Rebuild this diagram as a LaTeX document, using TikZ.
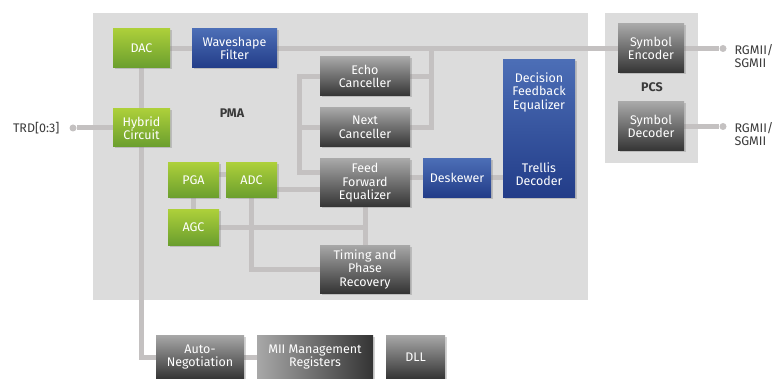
\documentclass[tikz,border=0pt]{standalone}
\usepackage{fontspec}
\setmainfont{Fira Sans}
\usepackage{tikz}
\usetikzlibrary{positioning,calc,shadows}

\definecolor{pmagray}{RGB}{220,220,220}
\definecolor{wiregray}{RGB}{196,193,193}
\definecolor{labelgray}{RGB}{58,58,58}
\definecolor{greentop}{RGB}{172,207,58}
\definecolor{greenbot}{RGB}{106,158,46}
\definecolor{bluetop}{RGB}{76,110,182}
\definecolor{bluebot}{RGB}{34,60,136}
\definecolor{graytop}{RGB}{168,168,168}
\definecolor{graybot}{RGB}{52,52,52}

\pgfdeclarelayer{bg}
\pgfdeclarelayer{wires}
\pgfsetlayers{bg,wires,main}

\newcommand{\boxfont}{\fontsize{12.5}{13.5}\selectfont}

\tikzset{
  blk/.style={inner sep=0pt, align=center, text=white, font=\boxfont,
    drop shadow={shadow xshift=1.5pt, shadow yshift=-1.5pt, opacity=.35}},
  greenbox/.style={blk, top color=greentop, bottom color=greenbot},
  bluebox/.style={blk, top color=bluetop, bottom color=bluebot},
  graybox/.style={blk, top color=graytop, bottom color=graybot},
  wire/.style={draw=wiregray, line width=5pt},
  dot/.style={circle, fill=wiregray, inner sep=0pt, minimum size=7pt},
  lbl/.style={text=labelgray, font=\boxfont, align=left}
}

\begin{document}
\begin{tikzpicture}[x=1pt,y=-1pt]
\useasboundingbox (0,0) rectangle (778,379);

\begin{pgfonlayer}{bg}
\fill[pmagray] (93,13) rectangle (588,300);
\fill[pmagray] (605,13) rectangle (698,163);
\end{pgfonlayer}

\node[lbl, font=\boxfont\bfseries] (pma) at (232,113) {PMA};
\node[lbl, font=\boxfont\bfseries] (pcs) at (652,87) {PCS};

% PMA blocks
\node[greenbox, minimum width=57, minimum height=39] (dac) at (141.5,48.5) {DAC};
\node[bluebox, minimum width=85, minimum height=39] (wave) at (234.5,48.5) {Waveshape\\Filter};
\node[greenbox, minimum width=57, minimum height=38] (hyb) at (141.5,128) {Hybrid\\Circuit};
\node[greenbox, minimum width=51, minimum height=35] (pga) at (193.5,180.5) {PGA};
\node[greenbox, minimum width=51, minimum height=35] (adc) at (251.5,180.5) {ADC};
\node[greenbox, minimum width=51, minimum height=35] (agc) at (193.5,227.5) {AGC};
\node[graybox, minimum width=90, minimum height=39] (echo) at (365,76.5) {Echo\\Canceller};
\node[graybox, minimum width=90, minimum height=39] (nxt) at (365,127.5) {Next\\Canceller};
\node[graybox, minimum width=90, minimum height=48] (ffe) at (365,183) {Feed\\Forward\\Equalizer};
\node[graybox, minimum width=90, minimum height=48] (tim) at (365,269) {Timing and\\Phase\\Recovery};
\node[bluebox, minimum width=68, minimum height=39] (desk) at (457,178) {Deskewer};
\node[bluebox, minimum width=72, minimum height=138] (dfe) at (539,129) {};
\node[text=white, font=\boxfont, align=center] (dfetxt) at (539,92) {Decision\\Feedback\\Equalizer};
\node[text=white, font=\boxfont, align=center] (trellis) at (539,174) {Trellis\\Decoder};

% PCS blocks
\node[graybox, minimum width=66, minimum height=49] (enc) at (651,48.5) {Symbol\\Encoder};
\node[graybox, minimum width=66, minimum height=49] (dec) at (651,126.5) {Symbol\\Decoder};

% management blocks
\node[graybox, minimum width=88, minimum height=44] (auto) at (200,357) {Auto-\\Negotiation};
\node[blk, left color=graytop, right color=graybot, minimum width=116, minimum height=44] (mii) at (315,357) {MII Management\\Registers};
\node[graybox, minimum width=59, minimum height=44] (dll) at (415.5,357) {DLL};

% pins
\node[dot] (trddot) at (73,128) {};
\node[lbl, anchor=east] (trd) at (63,128) {TRD[0:3]};
\node[dot] (encdot) at (723,48.5) {};
\node[dot] (decdot) at (723,126.5) {};
\node[lbl, anchor=west] (rgtx) at (731,56) {RGMII/\\SGMII};
\node[lbl, anchor=west] (rgrx) at (731,134) {RGMII/\\SGMII};

\begin{pgfonlayer}{wires}
\draw[wire] (dac.east) -- (wave.west);
\draw[wire] (wave.east) -- (enc.west);
\draw[wire] (dac.south) -- (hyb.north);
\draw[wire] (hyb.west) -- (trddot);
\draw[wire] (hyb.south) |- (auto.west);
\draw[wire] ($(pga.west)+(0,-5.5)$) -- ($(pga.west)+(0,-5.5)$ -| hyb.south);
\draw[wire] ($(pga.east)+(0,-5.5)$) -- ($(adc.west)+(0,-5.5)$);
\draw[wire] (pga.south) -- (agc.north);
\draw[wire] ($(adc.east)+(0,9.5)$) -- ($(ffe.west)+(0,7)$);
\draw[wire] (adc.south) |- (tim.west);
\draw[wire] (agc.east) -- (agc.east -| ffe.south);
\draw[wire] (ffe.south) -- (tim.north);
\draw[wire] (echo.west) -- ++(-20,0) coordinate (lb) |- ($(ffe.west)+(0,-10)$);
\draw[wire] (nxt.west) -- (nxt.west -| lb);
\draw[wire] (nxt.east) -- ++(21,0) coordinate (rb) -- (rb |- wave.east);
\draw[wire] (echo.east) -- (echo.east -| rb);
\draw[wire] (ffe.east |- desk.west) -- (desk.west);
\draw[wire] (desk.east) -- (desk.east -| dfe.west);
\draw[wire] (enc.east) -- (encdot);
\draw[wire] (dec.east) -- (decdot);
\draw[wire] (auto.east) -- (mii.west);
\end{pgfonlayer}
\end{tikzpicture}
\end{document}
